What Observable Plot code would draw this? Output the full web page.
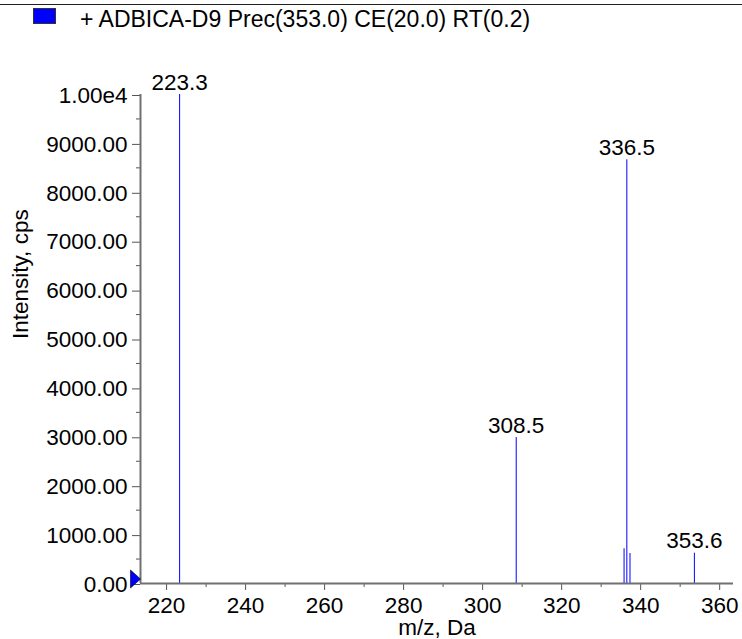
<!DOCTYPE html>
<html><head><meta charset="utf-8">
<script src="https://cdn.jsdelivr.net/npm/d3@7"></script>
<script src="https://cdn.jsdelivr.net/npm/@observablehq/plot@0.6"></script>
<style>
html,body{margin:0;padding:0;background:#fff;font-family:"Liberation Sans",Arial,sans-serif;}
#header{position:relative;width:742px;height:40px;overflow:hidden;}
#topline{position:absolute;left:0;top:4px;width:742px;height:0;border-top:1.5px solid #222;}
#swatch{position:absolute;left:33px;top:8px;width:21px;height:14px;background:#0000ff;border:1px solid #333;}
#title{position:absolute;left:80px;top:8px;font-size:23px;line-height:1;color:#000;white-space:nowrap;}
#chart svg{display:block;}
</style>
</head><body>
<div id="header"><div id="topline"></div><div id="swatch"></div><div id="title"></div></div>
<div id="chart"></div>
<script>
const titleText = "+ ADBICA-D9 Prec(353.0) CE(20.0) RT(0.2)";
const mzValues = [223.3, 308.5, 335.8, 336.5, 337.3, 353.6];
const intensities = [10000, 2985, 710, 8665, 613, 620];
const peakLabels = ["223.3", "308.5", "", "336.5", "", "353.6"];
const yTicks = [0, 1000, 2000, 3000, 4000, 5000, 6000, 7000, 8000, 9000, 10000];
const yTickLabels = ["0.00", "1000.00", "2000.00", "3000.00", "4000.00", "5000.00", "6000.00", "7000.00", "8000.00", "9000.00", "1.00e4"];
const yMinorTicks = [500, 1500, 2500, 3500, 4500, 5500, 6500, 7500, 8500, 9500];
const xTicks = [220, 240, 260, 280, 300, 320, 340, 360];
const xMinorTicks = [230, 250, 270, 290, 310, 330, 350];
const xDomain = [213.4, 363.5];
const yDomain = [0, 10000];
const xLabel = "m/z, Da";
const yLabel = "Intensity, cps";

document.getElementById("title").textContent = titleText;

const peaks = mzValues.map((m, i) => ({mz: m, intensity: intensities[i], label: peakLabels[i]}));

const markerSymbol = {
  draw(ctx) {
    ctx.moveTo(-5, -9);
    ctx.lineTo(5, 0);
    ctx.lineTo(-5, 9);
    ctx.closePath();
  }
};

const FS = 22.5;

const chart = Plot.plot({
  width: 742,
  height: 599,
  marginLeft: 140,
  marginRight: 9,
  marginTop: 54,
  marginBottom: 56,
  style: {fontFamily: "'Liberation Sans', Arial, sans-serif", fontSize: FS + "px", color: "#000", background: "#fff", overflow: "visible"},
  x: {domain: xDomain},
  y: {domain: yDomain},
  marks: [
    Plot.axisY({ticks: yMinorTicks, tickSize: 4, tickFormat: () => "", label: null, stroke: "#555"}),
    Plot.axisY({ticks: yTicks, tickSize: 8, tickPadding: 5, tickFormat: d => yTickLabels[yTicks.indexOf(d)], label: null, stroke: "#555", fill: "#000", fontSize: FS, dy: 1}),
    Plot.axisX({ticks: xMinorTicks, tickSize: 4, tickFormat: () => "", label: null, stroke: "#555"}),
    Plot.axisX({ticks: xTicks, tickSize: 7, tickPadding: 7, label: null, stroke: "#555", fill: "#000", fontSize: FS}),
    Plot.ruleX(peaks, {x: "mz", y1: 0, y2: "intensity", stroke: "#0000ff", strokeWidth: 1}),
    Plot.ruleY([yDomain[0]], {stroke: "#707070", strokeWidth: 2}),
    Plot.ruleX([xDomain[0]], {stroke: "#707070", strokeWidth: 2}),
    Plot.text(peaks.filter(d => d.label), {x: "mz", y: "intensity", text: "label", lineAnchor: "bottom", dy: -5, fill: "#000", fontSize: FS}),
    Plot.dot([{x: xDomain[0], y: 0}], {x: "x", y: "y", symbol: markerSymbol, r: 5, fill: "#0000ff", stroke: "#000", strokeWidth: 0.6, dx: -5, dy: -4.5}),
    Plot.text([yLabel], {text: d => d, frameAnchor: "left", dx: -120, rotate: -90, fill: "#000", fontSize: FS}),
    Plot.text([xLabel], {text: d => d, frameAnchor: "bottom", dy: 44.5, lineAnchor: "middle", fill: "#000", fontSize: FS})
  ]
});
document.getElementById("chart").appendChild(chart);
</script>
</body></html>
